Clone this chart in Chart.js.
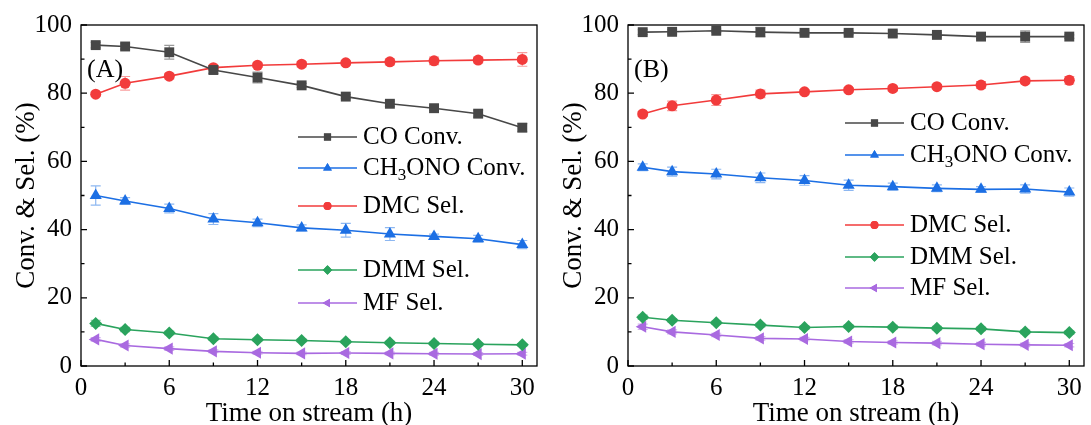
<!DOCTYPE html>
<html>
<head>
<meta charset="utf-8">
<script src="https://cdn.jsdelivr.net/npm/chart.js@4.4.1/dist/chart.umd.min.js"></script>
<style>
  body { margin: 0; background: #fff; }
  #wrap { position: relative; width: 1091px; height: 425px; }
  canvas { position: absolute; top: 0; }
</style>
</head>
<body>
<div id="wrap">
  <canvas id="chartA" width="544" height="425" style="left:0px"></canvas>
  <canvas id="chartB" width="544" height="425" style="left:547px"></canvas>
</div>
<script>
// time on stream (h)
const hours = [1, 3, 6, 9, 12, 15, 18, 21, 24, 27, 30];
const xTicks = [0, 6, 12, 18, 24, 30];
const yTicks = [0, 20, 40, 60, 80, 100];

// panel A
const coA = [94.1, 93.7, 92.0, 86.8, 84.6, 82.3, 79.0, 76.9, 75.6, 74.0, 69.9];
const meA = [50.0, 48.4, 46.2, 43.1, 42.0, 40.5, 39.8, 38.7, 38.0, 37.3, 35.6];
const dmcA = [79.7, 82.9, 85.0, 87.5, 88.2, 88.5, 88.9, 89.2, 89.5, 89.7, 89.9];
const dmmA = [12.5, 10.7, 9.7, 8.0, 7.7, 7.5, 7.1, 6.8, 6.6, 6.4, 6.2];
const mfA = [7.8, 6.0, 5.1, 4.3, 3.9, 3.7, 3.8, 3.7, 3.6, 3.5, 3.6];
const coErrA = [0.8, 0.8, 2.0, 1.0, 1.6, 0.6, 0.6, 0.8, 0.6, 1.0, 1.2];
const meErrA = [2.8, 1.0, 1.3, 1.6, 1.1, 0.9, 2.0, 1.9, 0.7, 1.0, 1.2];
const dmcErrA = [0.6, 2.0, 0.8, 0.7, 0.6, 0.8, 0.6, 0.9, 1.1, 0.8, 2.0];
const dmmErrA = [0.9, 0.6, 0.5, 0.5, 0.4, 0.4, 0.4, 0.4, 0.4, 0.4, 0.4];
const mfErrA = [0.5, 0.5, 0.5, 0.4, 0.4, 0.4, 0.4, 0.4, 0.4, 0.4, 0.4];

// panel B
const coB = [97.9, 98.0, 98.3, 97.9, 97.7, 97.7, 97.5, 97.1, 96.6, 96.6, 96.6];
const meB = [58.3, 57.0, 56.3, 55.2, 54.4, 53.0, 52.6, 52.1, 51.8, 51.9, 51.0];
const dmcB = [73.9, 76.3, 78.0, 79.8, 80.4, 81.0, 81.4, 81.9, 82.4, 83.6, 83.8];
const dmmB = [14.3, 13.4, 12.7, 12.0, 11.3, 11.6, 11.4, 11.1, 10.9, 10.0, 9.8];
const mfB = [11.5, 10.0, 9.1, 8.1, 7.9, 7.2, 6.9, 6.7, 6.4, 6.2, 6.1];
const coErrB = [0.7, 0.6, 0.5, 1.4, 0.5, 0.5, 0.8, 0.6, 0.6, 1.7, 0.5];
const meErrB = [1.0, 1.3, 1.4, 1.4, 1.4, 1.5, 1.0, 1.0, 0.8, 1.2, 1.2];
const dmcErrB = [0.7, 1.4, 1.6, 1.1, 0.6, 0.6, 0.7, 0.6, 1.0, 0.8, 1.1];
const dmmErrB = [0.6, 0.5, 0.5, 0.5, 0.5, 0.5, 0.5, 0.5, 0.5, 0.5, 0.5];
const mfErrB = [0.8, 0.6, 0.5, 0.5, 0.5, 0.5, 0.5, 0.5, 0.5, 0.5, 0.5];

const names = ['CO Conv.', 'CH3ONO Conv.', 'DMC Sel.', 'DMM Sel.', 'MF Sel.'];
const colors = ['#474747', '#1c6fe4', '#f23b3b', '#2aa35d', '#a96ae0'];
const errColors = ['rgba(71,71,71,0.55)', 'rgba(28,111,228,0.5)', 'rgba(242,59,59,0.5)', 'rgba(42,163,93,0.5)', 'rgba(169,106,224,0.5)'];
const shapes = ['rect', 'triangle', 'circle', 'rectRot', 'triangle'];
const radii = [7, 7, 5.5, 6.5, 7];
const rotations = [0, 0, 0, 0, -90];

const FONT = 'Liberation Serif, Times New Roman, serif';

function makeSets(series) {
  return series.map((vals, i) => ({
    label: names[i],
    data: hours.map((h, j) => ({ x: h, y: vals[j] })),
    borderColor: colors[i],
    backgroundColor: colors[i],
    borderWidth: 1.6,
    pointStyle: shapes[i],
    pointRadius: radii[i],
    pointRotation: rotations[i],
    pointBorderWidth: 0,
    tension: 0
  }));
}

const framePlugin = {
  id: 'frame',
  beforeDatasetsDraw(chart, args, opts) {
    const ctx = chart.ctx;
    const xs = chart.scales.x, ys = chart.scales.y;
    ctx.save();
    ctx.lineWidth = 1.2;
    opts.errors.forEach((errs, i) => {
      ctx.strokeStyle = errColors[i];
      const vals = chart.data.datasets[i].data;
      vals.forEach((p, j) => {
        const x = xs.getPixelForValue(p.x);
        const y1 = ys.getPixelForValue(p.y + errs[j]);
        const y2 = ys.getPixelForValue(p.y - errs[j]);
        ctx.beginPath();
        ctx.moveTo(x, y1); ctx.lineTo(x, y2);
        ctx.moveTo(x - 5, y1); ctx.lineTo(x + 5, y1);
        ctx.moveTo(x - 5, y2); ctx.lineTo(x + 5, y2);
        ctx.stroke();
      });
    });
    ctx.restore();
  },
  afterDraw(chart, args, opts) {
    const ctx = chart.ctx;
    const a = chart.chartArea;
    const xs = chart.scales.x, ys = chart.scales.y;
    ctx.save();
    // frame
    ctx.strokeStyle = '#000';
    ctx.lineWidth = 1.3;
    ctx.strokeRect(a.left, a.top, a.right - a.left, a.bottom - a.top);
    // inward ticks
    ctx.beginPath();
    for (let v = 0; v <= 30; v += 3) {
      const x = xs.getPixelForValue(v);
      const len = v % 6 === 0 ? 6 : 3.5;
      ctx.moveTo(x, a.bottom); ctx.lineTo(x, a.bottom - len);
    }
    for (let v = 0; v <= 100; v += 10) {
      const y = ys.getPixelForValue(v);
      const len = v % 20 === 0 ? 6 : 3.5;
      ctx.moveTo(a.left, y); ctx.lineTo(a.left + len, y);
    }
    ctx.stroke();

    // axis titles
    ctx.fillStyle = '#000';
    ctx.font = '27px ' + FONT;
    ctx.textAlign = 'center';
    ctx.textBaseline = 'alphabetic';
    ctx.fillText('Time on stream (h)', (a.left + a.right) / 2, 421);
    ctx.save();
    ctx.translate(34, (a.top + a.bottom) / 2);
    ctx.rotate(-Math.PI / 2);
    ctx.fillText('Conv. & Sel. (%)', 0, 0);
    ctx.restore();

    // panel label
    ctx.font = '26px ' + FONT;
    ctx.textAlign = 'left';
    ctx.fillText(opts.label, a.left + 6, 77);

    // legend
    const x0 = a.left + 217, x1 = x0 + 59, xm = (x0 + x1) / 2;
    opts.legendRows.forEach((ry, i) => {
      ctx.strokeStyle = colors[i];
      ctx.lineWidth = 1.6;
      ctx.beginPath();
      ctx.moveTo(x0, ry); ctx.lineTo(x1, ry);
      ctx.stroke();
      ctx.fillStyle = colors[i];
      ctx.beginPath();
      Chart.helpers.drawPoint(ctx, {
        pointStyle: shapes[i], radius: radii[i] * 0.72, rotation: rotations[i], borderWidth: 0
      }, xm, ry);
      ctx.fill();
      ctx.fillStyle = '#000';
      ctx.font = '25px ' + FONT;
      ctx.textBaseline = 'middle';
      const tx = x1 + 6;
      if (i === 1) {
        ctx.fillText('CH', tx, ry);
        let w = ctx.measureText('CH').width;
        ctx.font = '17px ' + FONT;
        ctx.fillText('3', tx + w, ry + 8);
        w += ctx.measureText('3').width;
        ctx.font = '25px ' + FONT;
        ctx.fillText('ONO Conv.', tx + w, ry);
      } else {
        ctx.fillText(names[i], tx, ry);
      }
    });
    ctx.restore();
  }
};

function makeChart(id, series, errors, label, legendRows) {
  return new Chart(document.getElementById(id), {
    type: 'line',
    data: { datasets: makeSets(series) },
    options: {
      responsive: false,
      animation: false,
      devicePixelRatio: 1,
      layout: { padding: { top: 25, right: 4, left: 0, bottom: 0 } },
      plugins: {
        legend: { display: false },
        tooltip: { enabled: false },
        frame: { errors: errors, label: label, legendRows: legendRows }
      },
      scales: {
        x: {
          type: 'linear', min: 0, max: 31,
          afterBuildTicks: s => { s.ticks = xTicks.map(v => ({ value: v })); },
          afterFit: s => { s.height = 59; },
          grid: { display: false, drawTicks: false },
          border: { display: false },
          ticks: { color: '#000', padding: 7, maxRotation: 0, font: { family: FONT, size: 25 } }
        },
        y: {
          min: 0, max: 100,
          afterBuildTicks: s => { s.ticks = yTicks.map(v => ({ value: v })); },
          afterFit: s => { s.width = 81; },
          grid: { display: false, drawTicks: false },
          border: { display: false },
          ticks: { color: '#000', padding: 9, font: { family: FONT, size: 25 } }
        }
      }
    },
    plugins: [framePlugin]
  });
}

makeChart('chartA', [coA, meA, dmcA, dmmA, mfA], [coErrA, meErrA, dmcErrA, dmmErrA, mfErrA], '(A)', [137, 168, 206, 270, 303]);
makeChart('chartB', [coB, meB, dmcB, dmmB, mfB], [coErrB, meErrB, dmcErrB, dmmErrB, mfErrB], '(B)', [123, 155, 225, 257, 288]);
</script>
</body>
</html>
